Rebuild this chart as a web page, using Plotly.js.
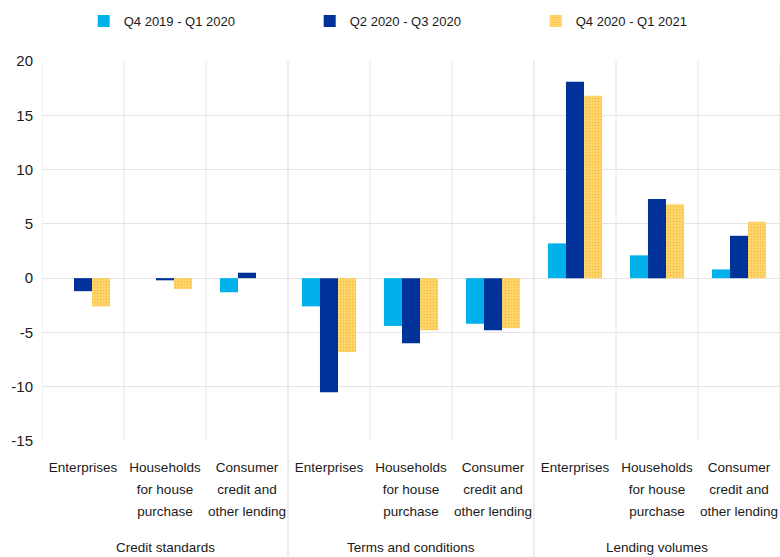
<!DOCTYPE html>
<html>
<head>
<meta charset="utf-8">
<script src="https://cdn.plot.ly/plotly-3.0.1.min.js"></script>
<style>
  html, body { margin: 0; padding: 0; background: #fff; }
  #chart { width: 780px; height: 557px; }
</style>
</head>
<body>
<div id="chart"></div>
<script>
// Survey categories: three question blocks, three borrower types in each
const groups = ["Credit standards", "Terms and conditions", "Lending volumes"];
const subLabels = [
  "Enterprises",
  "Households<br>for house<br>purchase",
  "Consumer<br>credit and<br>other lending"
];
const seriesNames = ["Q4 2019 - Q1 2020", "Q2 2020 - Q3 2020", "Q4 2020 - Q1 2021"];

// Net percentages, in order: credit standards (3), terms and conditions (3), lending volumes (3)
const q4_2019_q1_2020 = [0.0, 0.0, -1.3, -2.6, -4.4, -4.2, 3.2, 2.1, 0.8];
const q2_2020_q3_2020 = [-1.2, -0.2, 0.5, -10.5, -6.0, -4.8, 18.1, 7.3, 3.9];
const q4_2020_q1_2021 = [-2.6, -1.0, 0.0, -6.8, -4.8, -4.6, 16.8, 6.8, 5.2];

const yTicks = [-15, -10, -5, 0, 5, 10, 15, 20];

const FONT = "'Liberation Sans', Arial, sans-serif";
const GRID = "#e4e4e4";
const INK = "#1a1a1a";

// one x slot per (group, borrower) pair; each label line set in a smaller span
// so the outer font size only drives the (looser) line spacing
const xPos = [];
const xText = [];
groups.forEach((g, gi) => subLabels.forEach((s, si) => {
  xPos.push(gi * subLabels.length + si);
  xText.push(s.split("<br>").map(l => "<span style='font-size:13.5px'>" + l + "</span>").join("<br>"));
}));

const colors = ["#00b1ea", "#003299", "#ffd05e"];
const values = [q4_2019_q1_2020, q2_2020_q3_2020, q4_2020_q1_2021];

const traces = values.map((v, i) => {
  const t = {
    type: "bar",
    name: seriesNames[i],
    x: xPos,
    y: v,
    marker: { color: colors[i], line: { width: 0 } },
    hoverinfo: "name+y"
  };
  if (i === 2) {
    t.marker.pattern = { shape: ".", fgcolor: "#f6bd3c", bgcolor: "#ffd66e", size: 3, solidity: 0.25 };
  }
  return t;
});

// cell borders between borrower types, full-height dividers between question blocks
const shapes = [];
const n = xPos.length;
for (let k = 0; k <= n; k++) {
  const xv = k - 0.5;
  const isGroupEdge = k > 0 && k < n && k % subLabels.length === 0;
  shapes.push({
    type: "line", xref: "x", yref: "paper",
    x0: xv, x1: xv,
    y0: isGroupEdge ? -0.32 : 0, y1: 1,
    line: { color: isGroupEdge ? "#d9d9d9" : GRID, width: 1 },
    layer: "below"
  });
}

const annotations = groups.map((g, gi) => ({
  text: g,
  xref: "x", yref: "paper",
  x: gi * subLabels.length + (subLabels.length - 1) / 2,
  y: -0.28,
  xanchor: "center", yanchor: "middle",
  showarrow: false,
  font: { family: FONT, size: 13.5, color: INK }
}));

const layout = {
  width: 780,
  height: 557,
  margin: { l: 42, r: 0, t: 61, b: 116 },
  paper_bgcolor: "#ffffff",
  plot_bgcolor: "#ffffff",
  font: { family: FONT, size: 13, color: INK },
  barmode: "group",
  bargap: 0.34,
  bargroupgap: 0,
  showlegend: true,
  legend: {
    orientation: "h",
    x: 0.0565, xanchor: "left",
    y: 1.105, yanchor: "middle",
    entrywidth: 181,
    font: { family: FONT, size: 13, color: INK },
    itemclick: false, itemdoubleclick: false
  },
  xaxis: {
    range: [-0.5, n - 0.5],
    tickmode: "array",
    tickvals: xPos,
    ticktext: xText,
    tickangle: 0,
    showgrid: false,
    zeroline: false,
    showline: false,
    ticks: "",
    ticklabelstandoff: 13,
    tickfont: { family: FONT, size: 17, color: INK },
    fixedrange: true
  },
  yaxis: {
    range: [-15, 20],
    tickmode: "array",
    tickvals: yTicks,
    ticktext: yTicks.map(String),
    showgrid: true,
    gridcolor: GRID,
    gridwidth: 1,
    zeroline: true,
    zerolinecolor: GRID,
    zerolinewidth: 1,
    showline: false,
    ticks: "",
    ticklabelstandoff: 8,
    tickfont: { family: FONT, size: 15, color: INK },
    fixedrange: true
  },
  shapes: shapes,
  annotations: annotations
};

Plotly.newPlot("chart", traces, layout, { displayModeBar: false, staticPlot: true });
</script>
</body>
</html>
